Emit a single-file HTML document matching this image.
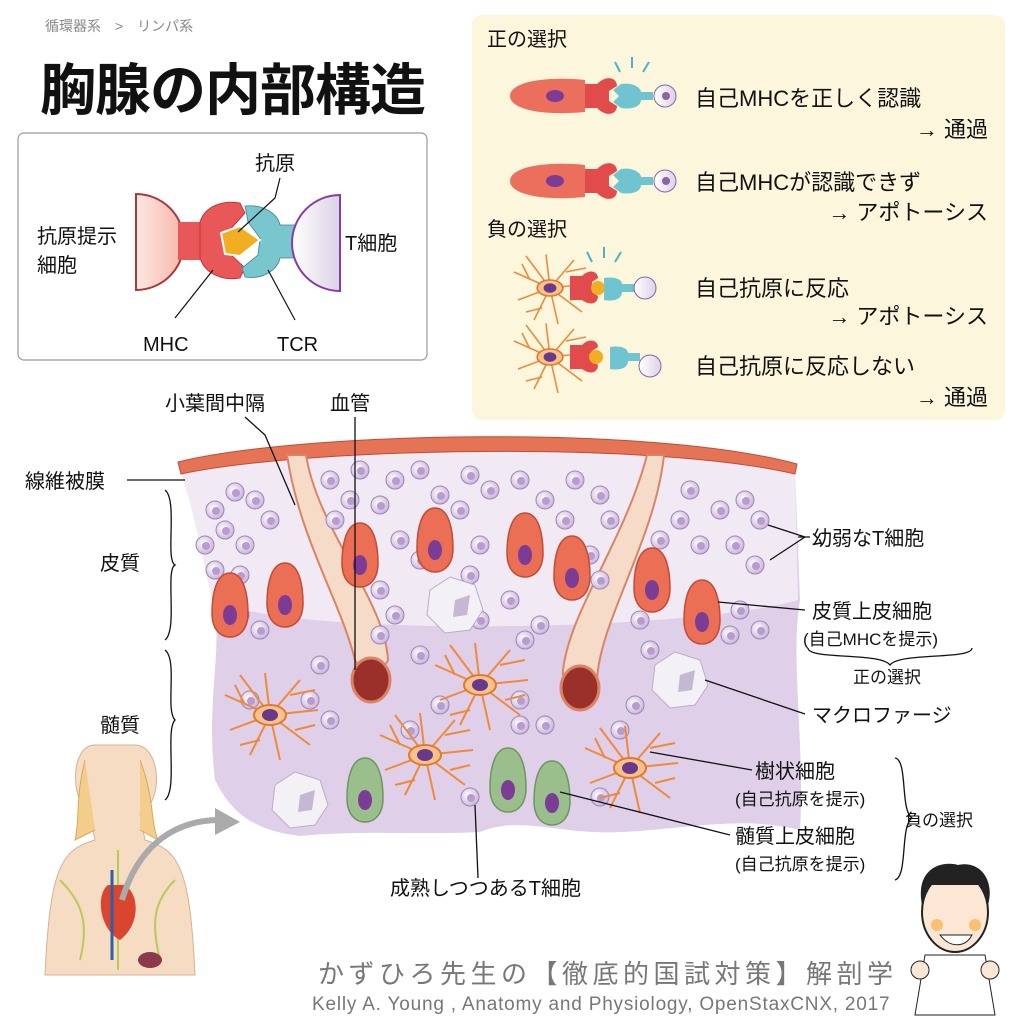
<!DOCTYPE html>
<html><head><meta charset="utf-8"><style>
html,body{margin:0;padding:0;background:#fff;}
svg{display:block;}
text{font-family:"Liberation Sans","Noto Sans CJK JP",sans-serif;fill:#111;}
</style></head><body>
<svg width="1024" height="1024" viewBox="0 0 1024 1024" xmlns="http://www.w3.org/2000/svg">
<defs>
<radialGradient id="lym" cx="0.4" cy="0.4" r="0.6"><stop offset="0" stop-color="#fff"/><stop offset="1" stop-color="#cdb6dc"/></radialGradient>
<linearGradient id="apc" x1="1" x2="0"><stop offset="0" stop-color="#f6b7aa"/><stop offset="1" stop-color="#fde7e2"/></linearGradient>
<linearGradient id="tc" x1="0" x2="1"><stop offset="0" stop-color="#fff"/><stop offset="1" stop-color="#dcd2e6"/></linearGradient>
<g id="L"><circle r="9" fill="url(#lym)" stroke="#9d86b8" stroke-width="1"/><circle cx="1" cy="1" r="4" fill="#b79cd0"/></g>
<g id="E"><path d="M0,-32 C14,-32 18,-10 18,8 C18,24 10,32 0,32 C-10,32 -18,24 -18,8 C-18,-10 -14,-32 0,-32Z" fill="#ea6f54" stroke="#c54a36" stroke-width="1.5"/><ellipse cx="0" cy="10" rx="7" ry="10" fill="#7c3c96"/></g>
<g id="G"><path d="M0,-32 C14,-32 18,-10 18,8 C18,24 10,32 0,32 C-10,32 -18,24 -18,8 C-18,-10 -14,-32 0,-32Z" fill="#9bbf8c" stroke="#6f9660" stroke-width="1.5"/><ellipse cx="0" cy="10" rx="7" ry="10" fill="#7c3c96"/></g>
<g id="D" stroke="#ee8a3c" stroke-width="2" fill="none"><path d="M0,0 L-45,-20 M0,0 L-40,15 M0,0 L-20,40 M0,0 L10,45 M0,0 L40,30 M0,0 L48,-5 M0,0 L30,-35 M0,0 L-5,-42 M0,0 L-30,-40 M-25,-10 L-35,-30 M25,15 L45,10 M-10,25 L-30,30 M20,-20 L45,-25"/><ellipse rx="16" ry="10" fill="#f7c28c" stroke="#e07a2a"/><ellipse rx="8" ry="6" fill="#6a3a8a" stroke="none"/></g>
<g id="M"><path d="M-25,-15 L-5,-28 L20,-20 L28,5 L15,25 L-10,28 L-28,10Z" fill="#f4f1f6" stroke="#b9aec4"/><path d="M0,-5 L15,-10 L12,10 L-2,12Z" fill="#c5b8d2"/></g>
<g id="SEL"><path d="M-75,0 C-75,-14 -40,-20 0,-16 L0,16 C-40,20 -75,14 -75,0Z" fill="#ec6e5c"/><ellipse cx="-30" cy="0" rx="9" ry="6" fill="#7c3c96"/><path d="M0,-12 L12,-12 C22,-22 32,-18 32,-10 L24,-5 L24,5 L32,10 C32,18 22,22 12,12 L0,12Z" fill="#e14b4b"/><path d="M36,-12 C48,-14 56,-8 56,-4 L68,-4 L68,4 L56,4 C56,10 48,14 36,12 L28,6 L34,0 L28,-6Z" fill="#6fc4d0"/><circle cx="80" cy="0" r="11" fill="url(#tc)" stroke="#8a63a8"/><circle cx="81" cy="0" r="4" fill="#8a63a8"/></g>
</defs>

<text x="45" y="31" font-size="14" style="fill:#888">循環器系　&gt;　リンパ系</text>
<text x="40" y="110" font-size="56" style="font-weight:bold;letter-spacing:-1px">胸腺の内部構造</text>

<rect x="18" y="133" width="409" height="227" rx="6" fill="#fff" stroke="#999" stroke-width="1.2"/>
<path d="M136,194 A48,48 0 0 1 136,290Z" fill="url(#apc)" stroke="#a8383a" stroke-width="2"/>
<rect x="178" y="222" width="22" height="38" fill="#e85858"/>
<path d="M200,222 C205,205 225,200 240,203 L245,213 L228,232 L228,252 L245,268 L240,278 C225,281 205,275 200,258Z" fill="#e85858" stroke="#b23" stroke-width="0.8"/>
<path d="M245,206 C265,204 278,215 280,225 L300,225 L300,258 L280,258 C278,268 265,280 245,277 L242,268 L258,255 L260,238 L248,222Z" fill="#79c6cf" stroke="#3a8690" stroke-width="0.8"/>
<path d="M221,233 L240,226 L260,240 L240,256 L225,254Z" fill="#f2ae22" stroke="#fff" stroke-width="2"/>
<path d="M340,195 A48,48 0 0 0 340,291Z" fill="url(#tc)" stroke="#8a3aa8" stroke-width="2"/>
<g stroke="#111" stroke-width="1.2" fill="none"><path d="M280,178 L275,198 L238,232"/><path d="M213,270 L175,318"/><path d="M268,270 L295,320"/></g>
<text x="255" y="170" font-size="20">抗原</text>
<text x="37" y="243" font-size="20">抗原提示</text>
<text x="37" y="272" font-size="20">細胞</text>
<text x="345" y="250" font-size="20">T細胞</text>
<text x="143" y="351" font-size="20">MHC</text>
<text x="277" y="351" font-size="20">TCR</text>

<rect x="472" y="15" width="533" height="405" rx="10" fill="#fbf6dc"/>
<text x="487" y="46" font-size="20">正の選択</text>
<text x="487" y="236" font-size="20">負の選択</text>
<use href="#SEL" x="585" y="96"/>
<g stroke="#4ab3c8" stroke-width="2"><path d="M620,72 L615,62 M632,68 L632,57 M643,72 L649,62"/></g>
<use href="#SEL" x="585" y="181"/>
<g transform="translate(550,288)"><use href="#D" transform="scale(0.8)"/></g>
<g transform="translate(550,357)"><use href="#D" transform="scale(0.8)"/></g>
<path d="M570,276 L582,276 C590,268 598,272 598,278 L592,282 L592,292 L598,296 C598,304 590,306 582,300 L570,300Z" fill="#e14b4b"/><circle cx="598" cy="288" r="7" fill="#f2ae22"/>
<path d="M604,278 C616,276 622,280 622,284 L634,284 L634,292 L622,292 C622,298 616,302 604,300Z" fill="#6fc4d0"/><circle cx="645" cy="288" r="11" fill="url(#tc)" stroke="#8a63a8"/>
<g stroke="#4ab3c8" stroke-width="2"><path d="M592,262 L587,252 M604,258 L604,247 M615,262 L621,252"/></g>
<path d="M570,345 L582,345 C590,337 598,341 598,347 L592,351 L592,361 L598,365 C598,373 590,375 582,369 L570,369Z" fill="#e14b4b"/><circle cx="596" cy="357" r="7" fill="#f2ae22"/>
<path d="M610,347 C622,345 628,349 628,353 L640,353 L640,361 L628,361 C628,367 622,371 610,369Z" fill="#6fc4d0"/><circle cx="650" cy="366" r="11" fill="url(#tc)" stroke="#8a63a8"/>
<g font-size="22">
<text x="695" y="106">自己MHCを正しく認識</text><text x="988" y="137" text-anchor="end">→ 通過</text>
<text x="695" y="190">自己MHCが認識できず</text><text x="988" y="220" text-anchor="end">→ アポトーシス</text>
<text x="695" y="296">自己抗原に反応</text><text x="988" y="324" text-anchor="end">→ アポトーシス</text>
<text x="695" y="374">自己抗原に反応しない</text><text x="988" y="405" text-anchor="end">→ 通過</text>
</g>

<!-- thymus -->
<path d="M180,468 C300,440 650,430 795,470 L800,600 C790,660 805,740 800,830 C740,815 680,830 620,832 C560,835 520,815 480,832 C420,835 360,830 300,836 C250,830 230,810 215,780 C205,700 225,640 212,600 C200,540 190,500 180,468Z" fill="#dfcfe8"/>
<path d="M180,468 C300,440 650,430 795,470 L798,600 C700,630 300,640 212,600 C200,540 190,500 180,468Z" fill="#f1e9f4"/>
<path d="M178,462 C300,432 650,424 797,464 L795,474 C650,440 300,448 181,474Z" fill="#e57356" stroke="#c14c36"/>
<path d="M287,455 C300,540 340,600 355,660 A18,18 0 0 0 388,660 C385,600 318,530 306,455Z" fill="#f6dcc8" stroke="#d98565" stroke-width="2"/>
<path d="M647,455 C625,540 570,610 563,670 A18,18 0 0 0 597,680 C600,620 655,540 664,455Z" fill="#f6dcc8" stroke="#d98565" stroke-width="2"/>
<ellipse cx="371" cy="680" rx="19" ry="22" fill="#9b2f2a" stroke="#d98565" stroke-width="3"/>
<ellipse cx="580" cy="688" rx="19" ry="22" fill="#9b2f2a" stroke="#d98565" stroke-width="3"/>
<g>
<use href="#L" x="215" y="510"/><use href="#L" x="235" y="492"/><use href="#L" x="255" y="500"/><use href="#L" x="225" y="530"/><use href="#L" x="245" y="545"/><use href="#L" x="205" y="545"/><use href="#L" x="270" y="520"/><use href="#L" x="215" y="570"/><use href="#L" x="240" y="575"/><use href="#L" x="260" y="630"/><use href="#L" x="240" y="615"/>
<use href="#L" x="330" y="480"/><use href="#L" x="350" y="500"/><use href="#L" x="335" y="520"/><use href="#L" x="360" y="470"/><use href="#L" x="395" y="480"/><use href="#L" x="380" y="505"/><use href="#L" x="420" y="470"/><use href="#L" x="440" y="495"/><use href="#L" x="470" y="475"/><use href="#L" x="460" y="510"/><use href="#L" x="490" y="490"/><use href="#L" x="520" y="480"/><use href="#L" x="545" y="500"/><use href="#L" x="575" y="480"/><use href="#L" x="600" y="495"/><use href="#L" x="565" y="520"/><use href="#L" x="610" y="520"/><use href="#L" x="400" y="540"/><use href="#L" x="420" y="560"/><use href="#L" x="480" y="545"/><use href="#L" x="470" y="575"/><use href="#L" x="520" y="560"/><use href="#L" x="590" y="555"/><use href="#L" x="600" y="580"/><use href="#L" x="380" y="590"/><use href="#L" x="395" y="615"/><use href="#L" x="380" y="635"/><use href="#L" x="510" y="600"/><use href="#L" x="540" y="625"/><use href="#L" x="525" y="640"/><use href="#L" x="480" y="620"/>
<use href="#L" x="690" y="490"/><use href="#L" x="720" y="510"/><use href="#L" x="745" y="500"/><use href="#L" x="760" y="520"/><use href="#L" x="680" y="520"/><use href="#L" x="700" y="545"/><use href="#L" x="735" y="545"/><use href="#L" x="755" y="565"/><use href="#L" x="660" y="540"/><use href="#L" x="740" y="610"/><use href="#L" x="760" y="630"/><use href="#L" x="730" y="635"/><use href="#L" x="640" y="620"/><use href="#L" x="650" y="650"/>
<use href="#L" x="320" y="665"/><use href="#L" x="310" y="700"/><use href="#L" x="330" y="720"/><use href="#L" x="420" y="655"/><use href="#L" x="440" y="705"/><use href="#L" x="410" y="730"/><use href="#L" x="520" y="700"/><use href="#L" x="545" y="725"/><use href="#L" x="520" y="725"/><use href="#L" x="635" y="705"/><use href="#L" x="620" y="730"/><use href="#L" x="470" y="797"/><use href="#L" x="600" y="797"/><use href="#L" x="250" y="700"/>
</g>
<use href="#E" x="230" y="605"/><use href="#E" x="285" y="595"/><use href="#E" x="360" y="555"/><use href="#E" x="435" y="540"/><use href="#E" x="525" y="545"/><use href="#E" x="572" y="568"/><use href="#E" x="652" y="580"/><use href="#E" x="702" y="612"/>
<use href="#M" x="455" y="605"/><use href="#M" x="680" y="680"/><use href="#M" x="300" y="800"/>
<use href="#D" x="270" y="715"/><use href="#D" x="480" y="685"/><use href="#D" x="425" y="755"/><use href="#D" x="630" y="768"/>
<use href="#G" x="365" y="790"/><use href="#G" x="508" y="780"/><use href="#G" x="552" y="793"/>

<g stroke="#111" stroke-width="1.3" fill="none">
<path d="M245,417 L265,435 L295,505"/><path d="M355,417 L355,670"/><path d="M127,480 L185,480"/>
<path d="M165,490 C178,500 165,560 175,565 C165,570 178,630 165,640"/>
<path d="M165,650 C178,660 165,710 175,720 C165,730 178,790 165,800"/>
<path d="M805,537 L768,525 M805,537 L770,560 M798,537 L810,537"/>
<path d="M805,610 L718,602"/><path d="M808,648 C808,660 880,652 890,665 C900,652 972,660 972,648"/>
<path d="M805,714 L705,680"/><path d="M752,770 L650,752"/><path d="M730,835 L560,792"/>
<path d="M478,878 L475,805"/>
<path d="M895,758 C908,760 900,810 912,818 C900,826 908,876 895,880"/>
</g>
<g font-size="20">
<text x="165" y="410">小葉間中隔</text><text x="330" y="410">血管</text>
<text x="25" y="488">線維被膜</text><text x="100" y="570">皮質</text><text x="100" y="732">髄質</text>
<text x="812" y="545">幼弱なT細胞</text><text x="812" y="618">皮質上皮細胞</text>
<text x="803" y="645" font-size="17">(自己MHCを提示)</text><text x="853" y="683" font-size="17">正の選択</text>
<text x="812" y="722">マクロファージ</text><text x="755" y="778">樹状細胞</text>
<text x="735" y="805" font-size="17">(自己抗原を提示)</text><text x="905" y="826" font-size="17">負の選択</text>
<text x="735" y="843">髄質上皮細胞</text><text x="735" y="870" font-size="17">(自己抗原を提示)</text>
<text x="390" y="895">成熟しつつあるT細胞</text>
</g>

<!-- human figure -->
<path d="M95,745 C70,745 70,800 90,815 L95,840 C60,850 50,870 45,975 L195,975 C190,870 180,850 145,840 L140,815 C165,800 160,745 135,745Z" fill="#f7dcc4" stroke="#d8b090"/>
<path d="M85,760 C75,800 80,820 75,840 L95,830 M140,760 C155,800 150,820 158,840 L140,830" fill="#f3cd8c" stroke="#d9a85a"/>
<path d="M60,880 C80,900 90,920 80,960 M175,880 C155,900 150,920 160,960 M118,850 L118,970" stroke="#b9c95a" stroke-width="2" fill="none"/>
<path d="M108,885 C95,895 100,930 120,940 C140,925 140,895 125,885Z" fill="#d9452f"/>
<path d="M112,870 L112,960" stroke="#2b5fa8" stroke-width="3"/>
<ellipse cx="150" cy="960" rx="12" ry="8" fill="#8a3a4a"/>
<path d="M122,900 C140,840 180,820 220,820" stroke="#aaa" stroke-width="6" fill="none"/><path d="M215,808 L240,822 L215,835Z" fill="#aaa"/>
<!-- doctor -->
<ellipse cx="955" cy="912" rx="33" ry="40" fill="#fbe7d3" stroke="#222" stroke-width="2"/>
<path d="M922,905 C915,870 940,860 958,865 C980,860 995,880 988,905 L980,885 L930,885Z" fill="#222"/>
<circle cx="937" cy="925" r="6" fill="#f8c070"/><circle cx="975" cy="925" r="6" fill="#f8c070"/>
<path d="M940,935 C950,948 965,948 972,935Z" fill="#fff" stroke="#222"/>
<path d="M925,955 L985,955 L995,1015 L915,1015Z" fill="#fff" stroke="#222"/>
<circle cx="920" cy="970" r="9" fill="#fbe7d3" stroke="#222"/><circle cx="990" cy="970" r="9" fill="#fbe7d3" stroke="#222"/>

<text x="318" y="983" font-size="26" style="fill:#777;letter-spacing:4.5px">かずひろ先生の【徹底的国試対策】解剖学</text>
<text x="312" y="1010" font-size="19" style="fill:#777;letter-spacing:0.8px">Kelly A. Young , Anatomy and Physiology, OpenStaxCNX, 2017</text>
</svg>
</body></html>
